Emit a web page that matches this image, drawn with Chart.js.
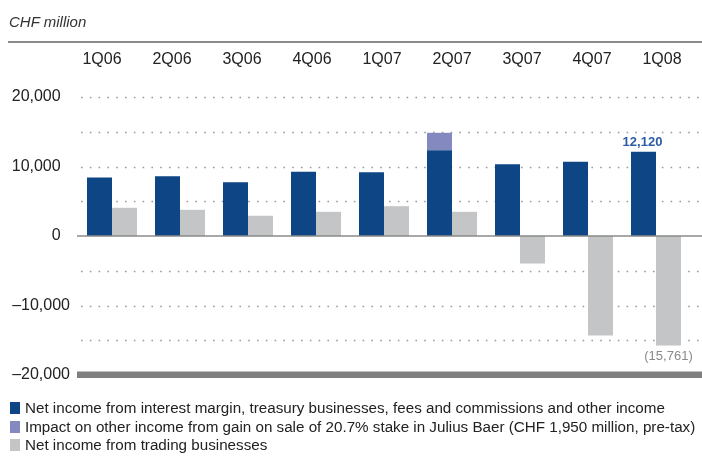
<!DOCTYPE html>
<html>
<head>
<meta charset="utf-8">
<script src="https://cdn.jsdelivr.net/npm/chart.js@4.4.1/dist/chart.umd.min.js"></script>
<style>
  html, body { margin: 0; padding: 0; background: #fff; }
  #wrap { position: relative; width: 702px; height: 463px; overflow: hidden; font-family: 'Liberation Sans', Arial, sans-serif; }
  #c { position: absolute; left: 0; top: 0; }
  #unit { position: absolute; left: 9px; top: 13px; font-size: 15px; font-style: italic; color: #333; }
  #rule { position: absolute; left: 8px; right: 0; top: 41px; height: 2px; background: #8a8a8a; }
  #legend { position: absolute; left: 10px; top: 399px; font-size: 15.2px; color: #222; }
  .row { height: 18.5px; line-height: 18.5px; white-space: nowrap; display: flex; align-items: center; }
  .sw { width: 10px; height: 12px; margin-right: 5px; flex: none; }
</style>
</head>
<body>
<div id="wrap">
  <canvas id="c" width="702" height="463"></canvas>
  <div id="unit">CHF million</div>
  <div id="rule"></div>
  <div id="legend"></div>
</div>
<script>
const categories = ['1Q06','2Q06','3Q06','4Q06','1Q07','2Q07','3Q07','4Q07','1Q08'];
const coreIncome = [8420, 8600, 7740, 9240, 9180, 12350, 10330, 10680, 12120];
const juliusBaer = [0, 0, 0, 0, 0, 2500, 0, 0, 0];
const tradingIncome = [4060, 3770, 2910, 3480, 4290, 3480, -3960, -14320, -15761];
const seriesNames = [
  'Net income from interest margin, treasury businesses, fees and commissions and other income',
  'Impact on other income from gain on sale of 20.7% stake in Julius Baer (CHF 1,950 million, pre-tax)',
  'Net income from trading businesses'
];
const seriesColors = ['#0e4585', '#8489bf', '#c4c5c7'];
const yTicks = [20000, 10000, 0, -10000, -20000];
const gridValues = [20000, 15000, 10000, 5000, -5000, -10000, -15000];

const FONT = "'Liberation Sans', Arial, sans-serif";
const fmt = v => Math.abs(v).toLocaleString('en-US');

const lg = document.getElementById('legend');
seriesNames.forEach((n, i) => {
  const r = document.createElement('div'); r.className = 'row';
  const s = document.createElement('span'); s.className = 'sw'; s.style.background = seriesColors[i];
  const t = document.createElement('span'); t.textContent = n;
  r.appendChild(s); r.appendChild(t); lg.appendChild(r);
});

const decor = {
  id: 'decor',
  beforeDatasetsDraw(chart) {
    const ctx = chart.ctx, y = chart.scales.y;
    ctx.save();
    ctx.strokeStyle = '#9a9a9a';
    ctx.lineWidth = 1.6;
    ctx.setLineDash([1.6, 7.2]);
    gridValues.forEach(v => {
      const py = Math.round(y.getPixelForValue(v)) + 0.5;
      ctx.beginPath(); ctx.moveTo(81, py); ctx.lineTo(702, py); ctx.stroke();
    });
    ctx.setLineDash([]);
    ctx.restore();
  },
  afterDatasetsDraw(chart) {
    const ctx = chart.ctx, y = chart.scales.y;
    ctx.save();
    ctx.strokeStyle = '#8a8a8a';
    ctx.lineWidth = 1.5;
    const p0 = y.getPixelForValue(0);
    ctx.beginPath(); ctx.moveTo(77, p0); ctx.lineTo(702, p0); ctx.stroke();
    ctx.fillStyle = '#7f7f7f';
    const pb = y.getPixelForValue(-20000);
    ctx.fillRect(77, pb - 3.5, 625, 6.5);
    const last = categories.length - 1;
    const bBlue = chart.getDatasetMeta(0).data[last];
    const bGray = chart.getDatasetMeta(2).data[last];
    ctx.font = "bold 13px " + FONT;
    ctx.fillStyle = '#2b5ca6';
    ctx.textAlign = 'center'; ctx.textBaseline = 'bottom';
    ctx.fillText(fmt(coreIncome[last]), bBlue.x - 1, bBlue.y - 3);
    ctx.font = "13px " + FONT;
    ctx.fillStyle = '#8a8a8a';
    ctx.textBaseline = 'top';
    ctx.fillText('(' + fmt(tradingIncome[last]) + ')', bGray.x, bGray.y + 4);
    ctx.restore();
  }
};

new Chart(document.getElementById('c'), {
  type: 'bar',
  data: {
    labels: categories,
    datasets: [
      { label: seriesNames[0], data: coreIncome, backgroundColor: seriesColors[0], stack: 'a' },
      { label: seriesNames[1], data: juliusBaer, backgroundColor: seriesColors[1], stack: 'a' },
      { label: seriesNames[2], data: tradingIncome, backgroundColor: seriesColors[2], stack: 'b' }
    ]
  },
  options: {
    responsive: false,
    devicePixelRatio: 1,
    animation: false,
    events: [],
    layout: { padding: { left: 0, right: 12, top: 45, bottom: 88 } },
    datasets: { bar: { categoryPercentage: 0.735, barPercentage: 1.0, borderWidth: 0 } },
    plugins: { legend: { display: false }, tooltip: { enabled: false } },
    scales: {
      x: {
        display: false,
        stacked: true
      },
      x2: {
        type: 'linear',
        position: 'top',
        offset: false,
        bounds: 'data',
        min: -0.343, max: 8.4,
        afterBuildTicks(s) { s.ticks = categories.map((c, i) => ({ value: i })); },
        grid: { display: false, drawTicks: false, offset: false },
        border: { display: false },
        ticks: { color: '#222', font: { family: FONT, size: 16 }, padding: 28,
                 callback: v => categories[v] },
        afterFit(s) { s.height = 52; s.paddingLeft = 0; s.paddingRight = 0; }
      },
      y: {
        stacked: true,
        min: -20000, max: 20000,
        afterBuildTicks(s) { s.ticks = yTicks.map(v => ({ value: v })); },
        grid: { display: false, drawTicks: false },
        border: { display: false },
        ticks: {
          color: '#222', font: { family: FONT, size: 16 }, padding: 8,
          callback: v => v < 0 ? '\u2013' + fmt(v) : fmt(v) + '\u2002\u200A'
        },
        afterFit(s) { s.width = 78; }
      }
    }
  },
  plugins: [decor]
});
</script>
</body>
</html>
